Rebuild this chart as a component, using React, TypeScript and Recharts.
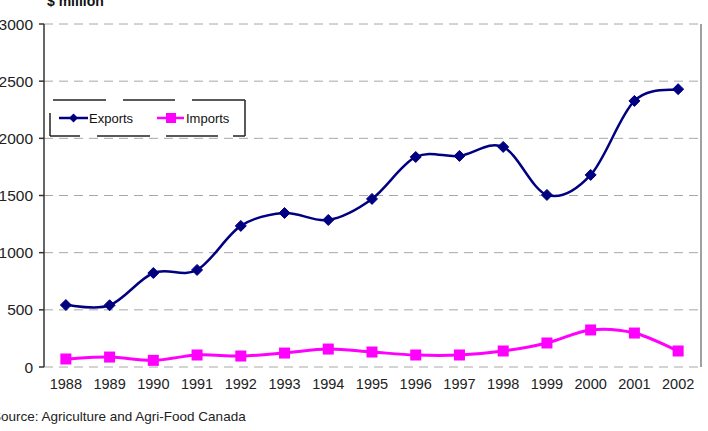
import React from "react";
import {
  LineChart,
  Line,
  XAxis,
  YAxis,
  CartesianGrid,
  Legend,
} from "recharts";

const years = ["1988", "1989", "1990", "1991", "1992", "1993", "1994", "1995", "1996", "1997", "1998", "1999", "2000", "2001", "2002"];
const exportsVals = [542, 540, 822, 849, 1234, 1347, 1286, 1470, 1837, 1846, 1925, 1505, 1680, 2327, 2430];
const importsVals = [70, 87, 58, 105, 96, 122, 157, 131, 105, 105, 140, 210, 324, 297, 140];
const yTicks = [0, 500, 1000, 1500, 2000, 2500, 3000];
const betweenTicks = [0, 1, 2, 3, 4, 5, 6, 7, 8, 9, 10, 11, 12, 13, 14, 15];

const data = years.map((year, i) => ({
  year,
  exports: exportsVals[i],
  imports: importsVals[i],
}));

const NAVY = "#000080";
const MAGENTA = "#FF00FF";
const FONT = "'Liberation Sans', Arial, sans-serif";

// Excel-like smoothed line (uniform Catmull-Rom through the points)
function smoothCurve(context: any) {
  let pts: number[][] = [];
  return {
    areaStart() {},
    areaEnd() {},
    lineStart() {
      pts = [];
    },
    point(x: number, y: number) {
      pts.push([+x, +y]);
    },
    lineEnd() {
      if (!pts.length) return;
      context.moveTo(pts[0][0], pts[0][1]);
      for (let i = 0; i < pts.length - 1; i++) {
        const p0 = pts[i - 1] || pts[i];
        const p1 = pts[i];
        const p2 = pts[i + 1];
        const p3 = pts[i + 2] || p2;
        context.bezierCurveTo(
          p1[0] + (p2[0] - p0[0]) / 6,
          p1[1] + (p2[1] - p0[1]) / 6,
          p2[0] - (p3[0] - p1[0]) / 6,
          p2[1] - (p3[1] - p1[1]) / 6,
          p2[0],
          p2[1]
        );
      }
    },
  };
}

const Diamond = (props: any) => {
  const { cx, cy, index } = props;
  if (cx == null || cy == null) return null;
  const r = 5.5;
  return (
    <path
      key={`d-${index}`}
      d={`M${cx},${cy - r}L${cx + r},${cy}L${cx},${cy + r}L${cx - r},${cy}Z`}
      fill={NAVY}
      stroke={NAVY}
    />
  );
};

const Square = (props: any) => {
  const { cx, cy, index } = props;
  if (cx == null || cy == null) return null;
  const s = 11;
  return (
    <rect key={`s-${index}`} x={cx - s / 2} y={cy - s / 2} width={s} height={s} fill={MAGENTA} />
  );
};

// legend frame: Excel drew it with a broken dashed border
const frame = "#222";
const LegendBox = () => (
  <svg width={198} height={40} style={{ display: "block", overflow: "visible" }}>
    <g stroke={frame} strokeWidth={1.5}>
      <line x1={4} y1={1} x2={57} y2={1} />
      <line x1={74} y1={1} x2={126} y2={1} />
      <line x1={143} y1={1} x2={196} y2={1} />
      <line x1={196} y1={1} x2={196} y2={37} />
      <line x1={1} y1={37} x2={31} y2={37} />
      <line x1={48} y1={37} x2={101} y2={37} />
      <line x1={117} y1={37} x2={169} y2={37} />
      <line x1={184} y1={37} x2={196} y2={37} />
      <line x1={1} y1={14} x2={1} y2={37} />
    </g>
    <line x1={10} y1={19} x2={39} y2={19} stroke={NAVY} strokeWidth={2.5} />
    <path d="M24.5,14.5L29,19L24.5,23.5L20,19Z" fill={NAVY} />
    <text x={40} y={23.5} fontSize={13} fontFamily={FONT} fill="#111">
      Exports
    </text>
    <line x1={108} y1={19} x2={135} y2={19} stroke={MAGENTA} strokeWidth={2.5} />
    <rect x={117} y={14} width={10} height={10} fill={MAGENTA} />
    <text x={137} y={23.5} fontSize={13} fontFamily={FONT} fill="#111">
      Imports
    </text>
  </svg>
);

export default function App() {
  return (
    <div
      style={{
        position: "absolute",
        left: 0,
        top: 0,
        width: 708,
        height: 431,
        background: "white",
        overflow: "hidden",
        fontFamily: FONT,
      }}
    >
      <div
        style={{
          position: "absolute",
          left: 47,
          top: -6,
          fontSize: 14,
          lineHeight: "14px",
          fontWeight: "bold",
          color: "#111",
          whiteSpace: "nowrap",
        }}
      >
        $ million
      </div>
      <LineChart
        width={708}
        height={431}
        data={data}
        margin={{ top: 24, right: 8, bottom: 34, left: 0 }}
      >
        <CartesianGrid
          xAxisId="c"
          vertical={false}
          stroke="#a8a8a8"
          strokeDasharray="9 6"
        />
        <XAxis
          xAxisId="t"
          type="number"
          domain={[0, 15]}
          ticks={betweenTicks}
          tick={false}
          height={0}
          tickSize={5}
          axisLine={{ stroke: "#333", strokeWidth: 1.5 }}
          tickLine={{ stroke: "#333", strokeWidth: 1.5 }}
        />
        <XAxis
          xAxisId="c"
          dataKey="year"
          scale="band"
          height={30}
          axisLine={false}
          tickLine={false}
          tickSize={6}
          tickMargin={6}
          interval={0}
          tick={{ fontSize: 14.5, fill: "#222", fontFamily: FONT }}
        />
        <YAxis
          width={44}
          domain={[0, 3000]}
          ticks={yTicks}
          interval={0}
          tickSize={5}
          tickMargin={6}
          axisLine={{ stroke: "#333", strokeWidth: 1.5 }}
          tickLine={{ stroke: "#333", strokeWidth: 1.5 }}
          tick={{ fontSize: 15.5, fill: "#222", fontFamily: FONT }}
        />
        <Legend
          layout="horizontal"
          verticalAlign="middle"
          align="center"
          content={() => <LegendBox />}
          wrapperStyle={{ left: 49, top: 99, width: 198, height: 40 }}
        />
        <Line
          xAxisId="c"
          type={smoothCurve as any}
          dataKey="exports"
          stroke={NAVY}
          strokeWidth={2.5}
          dot={Diamond}
          activeDot={false}
          isAnimationActive={false}
        />
        <Line
          xAxisId="c"
          type={smoothCurve as any}
          dataKey="imports"
          stroke={MAGENTA}
          strokeWidth={3}
          dot={Square}
          activeDot={false}
          isAnimationActive={false}
        />
      </LineChart>
      <div
        style={{
          position: "absolute",
          left: 700,
          top: 24,
          width: 2,
          height: 343,
          background: "#a0a0a0",
        }}
      />
      <div
        style={{
          position: "absolute",
          left: -8,
          top: 409,
          fontSize: 13.5,
          lineHeight: "16px",
          color: "#222",
          whiteSpace: "nowrap",
        }}
      >
        Source: Agriculture and Agri-Food Canada
      </div>
    </div>
  );
}
